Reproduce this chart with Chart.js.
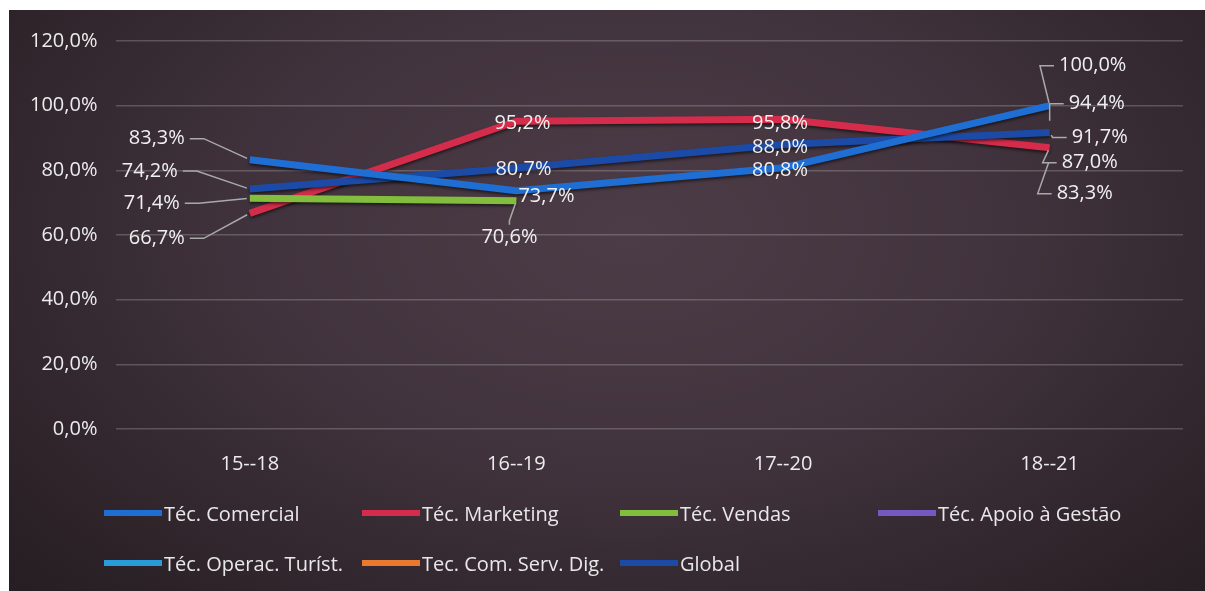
<!DOCTYPE html>
<html lang="pt">
<head>
<meta charset="utf-8">
<script src="https://cdn.jsdelivr.net/npm/chart.js@4.4.1/dist/chart.umd.min.js"></script>
<style>
  body { margin: 0; background: #fff; width: 1205px; height: 591px; overflow: hidden; position: relative; font-family: "Open Sans", sans-serif; }
  #painel {
    position: absolute; left: 9px; top: 10px; width: 1196px; height: 581px;
    background: radial-gradient(ellipse 70% 90% at 52% 38%, #4c3c47 0%, #41333d 45%, #2f252b 80%, #261e23 100%);
  }
  #painel canvas { position: absolute; left: 0; top: 0; }
  #legenda {
    position: absolute; left: 95px; top: 491px;
    display: grid; grid-template-columns: repeat(4, 258px); row-gap: 26px;
  }
  .item { display: flex; align-items: center; height: 24px; color: #e8e8e8; font-size: 20px; white-space: nowrap; }
  .item .linha { width: 58px; height: 6px; margin-right: 2px; }
</style>
</head>
<body>
<div id="painel">
  <canvas id="grafico" width="1196" height="581"></canvas>
  <div id="legenda"></div>
</div>
<script>
// Dados (percentagens)
const cursos = ["15--18", "16--19", "17--20", "18--21"];
const tecComercial = [83.3, 73.7, 80.8, 100.0];
const tecMarketing = [66.7, 95.2, 95.8, 87.0];
const tecVendas = [71.4, 70.6, null, null];
const tecApoioGestao = [null, null, null, 94.4];
const tecOperacTurist = [null, null, null, 83.3];
const tecComServDig = [null, null, null, null];
const global = [74.2, 80.7, 88.0, 91.7];
const ticksY = [0, 20, 40, 60, 80, 100, 120];

// Posição dos rótulos em relação ao ponto: [dx, dy, lado da linha de chamada]
const posRotulos = {
  "Téc. Comercial": [[-93, -21, "r"], [30, 6, null], [-3, 3, null], [43, -40, "l"]],
  "Téc. Marketing": [[-93, 25, "r"], [6, 2, null], [-3, 4, null], [40, 15, "l"]],
  "Téc. Vendas": [[-98, 5, "r"], [-7, 37, "t"], null, null],
  "Téc. Apoio à Gestão": [null, null, null, [47, -20, "l"]],
  "Téc. Operac. Turíst.": [null, null, null, [35, 34, "l"]],
  "Global": [[-100, -18, "r"], [7, 1, null], [-3, 3, null], [50, 5, "l"]]
};

const fmt = v => v.toFixed(1).replace(".", ",") + "%";

const serie = (label, data, cor, ordem) => ({
  label, data, borderColor: cor, backgroundColor: cor,
  borderWidth: 7, pointRadius: 0, pointHoverRadius: 0,
  tension: 0, spanGaps: false, order: ordem
});

// Sombra por baixo das linhas
const sombra = {
  id: "sombra",
  beforeDatasetDraw(chart) {
    const ctx = chart.ctx;
    ctx.save();
    ctx.shadowColor = "rgba(0,0,0,0.55)";
    ctx.shadowBlur = 3;
    ctx.shadowOffsetY = 2;
  },
  afterDatasetDraw(chart) { chart.ctx.restore(); }
};

// Rótulos de dados com linhas de chamada
const rotulos = {
  id: "rotulos",
  afterDatasetsDraw(chart) {
    const ctx = chart.ctx;
    ctx.save();
    ctx.font = "20px 'Open Sans'";
    ctx.textAlign = "center";
    ctx.textBaseline = "middle";
    chart.data.datasets.forEach((ds, i) => {
      const pos = posRotulos[ds.label];
      if (!pos) return;
      const meta = chart.getDatasetMeta(i);
      ds.data.forEach((v, j) => {
        if (v == null || !pos[j]) return;
        const p = meta.data[j];
        const [dx, dy, lado] = pos[j];
        const tx = p.x + dx, ty = p.y + dy;
        const w = ctx.measureText(fmt(v)).width;
        if (lado) {
          let ax, ay, bx, by;
          if (lado === "r") { ax = tx + w / 2 + 5; ay = ty; bx = ax + 14; by = ay; }
          else if (lado === "l") { ax = tx - w / 2 - 5; ay = ty; bx = ax - 14; by = ay; }
          else { ax = tx; ay = ty - 13; bx = ax; by = ay - 4; }
          const ang = Math.atan2(p.y - by, p.x - bx);
          ctx.strokeStyle = "#a9a9a9";
          ctx.lineWidth = 1.5;
          ctx.beginPath();
          ctx.moveTo(ax, ay);
          ctx.lineTo(bx, by);
          ctx.lineTo(p.x - Math.cos(ang) * 3, p.y - Math.sin(ang) * 3);
          ctx.stroke();
        }
        ctx.fillStyle = "#f0f0f0";
        ctx.fillText(fmt(v), tx, ty);
      });
    });
    ctx.restore();
  }
};

const grafico = new Chart(document.getElementById("grafico"), {
  type: "line",
  data: {
    labels: cursos,
    datasets: [
      serie("Téc. Comercial", tecComercial, "#1f6ed4", 2),
      serie("Téc. Marketing", tecMarketing, "#d42c4a", 3),
      serie("Téc. Vendas", tecVendas, "#82bd3e", 1),
      serie("Téc. Apoio à Gestão", tecApoioGestao, "#7658c0", 4),
      serie("Téc. Operac. Turíst.", tecOperacTurist, "#2a9bd9", 5),
      serie("Tec. Com. Serv. Dig.", tecComServDig, "#e8792e", 6),
      serie("Global", global, "#1b4ba6", 2)
    ]
  },
  options: {
    responsive: false,
    devicePixelRatio: 1,
    animation: false,
    layout: { padding: { top: 19, right: 22, bottom: 100, left: 2 } },
    plugins: { legend: { display: false }, tooltip: { enabled: false } },
    scales: {
      x: {
        offset: true,
        grid: { display: false },
        border: { display: false },
        ticks: { color: "#ececec", font: { family: "Open Sans", size: 20 }, padding: 15 }
      },
      y: {
        min: 0, max: 120,
        afterBuildTicks: s => { s.ticks = ticksY.map(value => ({ value })); },
        grid: { color: "rgba(255,255,255,0.2)", lineWidth: 1.5, drawTicks: false },
        border: { display: false },
        ticks: { color: "#ececec", font: { family: "Open Sans", size: 20 }, padding: 19, callback: v => fmt(v) }
      }
    }
  },
  plugins: [sombra, rotulos]
});

// Legenda em grelha
const legenda = document.getElementById("legenda");
grafico.data.datasets.forEach(ds => {
  const item = document.createElement("div");
  item.className = "item";
  const linha = document.createElement("span");
  linha.className = "linha";
  linha.style.background = ds.borderColor;
  item.appendChild(linha);
  item.appendChild(document.createTextNode(ds.label));
  legenda.appendChild(item);
});
</script>
</body>
</html>
